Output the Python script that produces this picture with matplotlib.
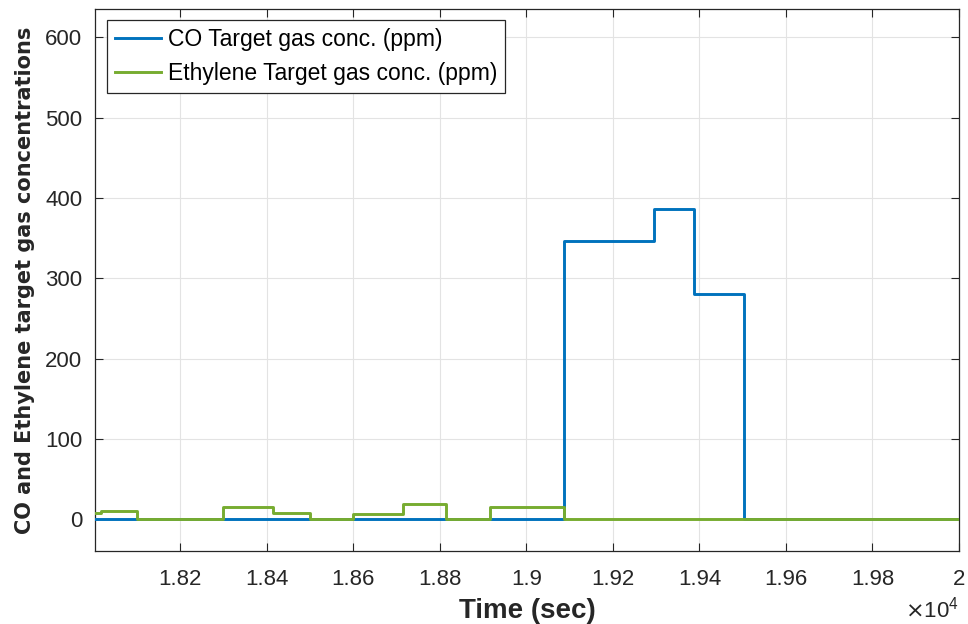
import matplotlib
matplotlib.use("Agg")
import matplotlib.pyplot as plt
import numpy as np

# ---- data (time in seconds, concentrations in ppm) ----
co_times = [18003, 19088, 19294, 19388, 19503, 20000]
co_levels = [0, 346, 386, 280, 0]

eth_times = [18003, 18017, 18100, 18300, 18415, 18500, 18600, 18715, 18815, 18916, 19087, 20000]
eth_levels = [8, 10, 0, 15, 8, 0, 7, 19, 0, 15, 0]

x_ticks = [18200, 18400, 18600, 18800, 19000, 19200, 19400, 19600, 19800, 20000]
y_ticks = [0, 100, 200, 300, 400, 500, 600]

co_label = "CO Target gas conc. (ppm)"
eth_label = "Ethylene Target gas conc. (ppm)"
x_label = "Time (sec)"
y_label = "CO and Ethylene target gas concentrations"

# ---- figure ----
plt.rcParams['font.family'] = ['Liberation Sans', 'DejaVu Sans']
W, H = 968, 624
fig = plt.figure(figsize=(W / 100, H / 100), dpi=100)
ax_l, ax_r, ax_t, ax_b = 95, 959, 9.3, 550.7
ax = fig.add_axes([ax_l / W, 1 - ax_b / H, (ax_r - ax_l) / W, (ax_b - ax_t) / H])

dark = '#262626'
blue = '#0072BD'
green = '#77AC30'


def step_xy(times, levels):
    x = np.array(times, dtype=float)
    y = np.array(list(levels) + [levels[-1]], dtype=float)
    return x, y


cx, cy = step_xy(co_times, co_levels)
ex, ey = step_xy(eth_times, eth_levels)
ax.plot(cx, cy, drawstyle='steps-post', color=blue, lw=2.1, label=co_label, zorder=3)
ax.plot(ex, ey, drawstyle='steps-post', color=green, lw=2.1, label=eth_label, zorder=4)

ax.set_xlim(18003, 20000)
ax.set_ylim(-39, 635)
ax.set_xticks(x_ticks)
ax.set_xticklabels(['%g' % (t / 1e4) for t in x_ticks])
ax.set_yticks(y_ticks)
ax.set_yticklabels([str(v) for v in y_ticks])

ax.grid(True, color='#e3e3e3', lw=0.8, zorder=0)
ax.set_axisbelow(True)
for s in ax.spines.values():
    s.set_color(dark)
    s.set_linewidth(0.9)
ax.tick_params(axis='both', which='both', direction='in', length=6, width=0.8,
               color=dark, labelcolor=dark, labelsize=16, top=True, right=True)
ax.tick_params(axis='x', pad=13)
ax.tick_params(axis='y', pad=9)

ax.set_xlabel(x_label, fontsize=20, fontweight='bold', color=dark)
ax.xaxis.set_label_coords(0.5, -0.087)
ax.set_ylabel(y_label, fontsize=15, fontweight='bold', color=dark,
              family=['DejaVu Sans'])
ax.yaxis.set_label_coords(-0.07, 0.5)

ax.text(1.0, -0.108, r'$\times\mathregular{10^{4}}$', transform=ax.transAxes,
        ha='right', va='center', fontsize=16, color=dark)

leg = ax.legend(loc='upper left', bbox_to_anchor=(12 / 864, 1 - 10.7 / 541.4),
                borderaxespad=0, fontsize=16.5, frameon=True, fancybox=False,
                handlelength=2.0, handletextpad=0.3, labelspacing=0.5,
                borderpad=0.35)
leg.get_frame().set_edgecolor(dark)
leg.get_frame().set_linewidth(0.9)
leg.get_frame().set_alpha(1)

fig.savefig('out.png', dpi=100)
